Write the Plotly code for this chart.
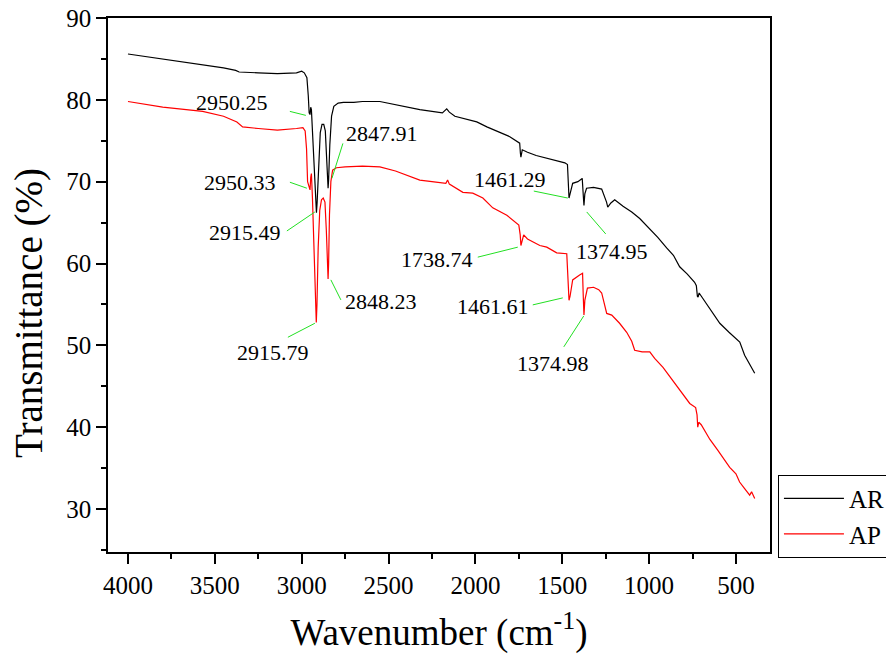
import plotly.graph_objects as go

# ---- data ----
ar_x = [4000, 3800, 3570, 3450, 3380, 3360, 3250, 3140, 3030, 3000, 2985, 2970, 2962, 2957, 2952, 2948, 2944,
        2935, 2926, 2918, 2915, 2911, 2902, 2893, 2883, 2873, 2864, 2856, 2850, 2848, 2845, 2838, 2828, 2815,
        2790, 2760, 2700, 2650, 2550, 2450, 2320, 2190, 2165, 2150, 2118, 1992, 1934, 1802, 1745, 1741, 1738,
        1730, 1700, 1650, 1600, 1550, 1485, 1470, 1465, 1461, 1455, 1440, 1410, 1385, 1378, 1375, 1370, 1360,
        1320, 1273, 1245, 1238, 1220, 1198, 1150, 1100, 1054, 1000, 950, 899, 860, 824, 780, 738, 728, 722,
        718, 712, 680, 640, 593, 540, 500, 478, 450, 420, 392]
ar_y = [85.6, 85.0, 84.3, 83.9, 83.6, 83.4, 83.3, 83.2, 83.3, 83.5, 83.3, 82.7, 80.5, 78.4, 78.2, 79.1, 78.8,
        75.0, 70.0, 66.5, 66.2, 67.5, 72.5, 76.0, 77.0, 77.0, 76.2, 72.5, 69.5, 69.2, 70.2, 74.5, 78.0, 79.2,
        79.6, 79.7, 79.7, 79.8, 79.8, 79.4, 78.8, 78.4, 78.9, 78.5, 78.0, 77.3, 76.7, 75.5, 74.7, 73.5, 73.0,
        73.9, 73.6, 73.2, 72.9, 72.6, 72.3, 72.1, 69.5, 68.0, 68.5, 69.8, 70.0, 70.4, 68.0, 67.1, 68.5, 69.2,
        69.3, 69.1, 67.5, 66.9, 67.4, 67.8, 67.0, 66.3, 65.5, 64.3, 63.2, 61.9, 61.0, 59.6, 58.7, 57.7, 57.3, 56.0,
        55.9, 56.4, 55.4, 54.3, 52.7, 51.6, 50.9, 50.4, 48.8, 47.6, 46.6]

ap_x = [4000, 3800, 3570, 3450, 3373, 3340, 3250, 3140, 3030, 2993, 2980, 2972, 2966, 2958, 2952, 2948, 2944,
        2938, 2930, 2922, 2916, 2912, 2905, 2896, 2886, 2876, 2866, 2858, 2852, 2848, 2845, 2840, 2832, 2822,
        2800, 2750, 2650, 2550, 2460, 2395, 2320, 2250, 2170, 2160, 2150, 2072, 2015, 1957, 1900, 1819, 1750,
        1742, 1738, 1733, 1722, 1700, 1660, 1629, 1589, 1532, 1474, 1468, 1461, 1455, 1440, 1400, 1383, 1379,
        1375, 1370, 1355, 1320, 1290, 1273, 1250, 1244, 1215, 1170, 1129, 1100, 1083, 1040, 996, 968, 920, 864,
        810, 766, 732, 724, 720, 714, 700, 650, 605, 570, 536, 500, 479, 450, 421, 410, 400, 392]
ap_y = [79.8, 79.1, 78.6, 78.0, 77.3, 76.7, 76.5, 76.3, 76.5, 76.6, 76.2, 74.0, 70.0, 69.3, 69.0, 70.5, 71.0,
        68.0, 62.0, 56.0, 52.8, 55.0, 62.0, 66.5, 67.8, 68.0, 67.5, 64.0, 59.0, 58.1, 60.0, 66.0, 70.0, 71.4,
        71.7, 71.8, 71.9, 71.8, 71.3, 70.8, 70.2, 70.0, 69.8, 70.2, 69.7, 68.7, 68.6, 68.0, 66.8, 65.9, 64.7,
        63.5, 62.2, 62.6, 63.5, 63.0, 62.5, 62.2, 62.0, 61.3, 61.2, 58.0, 55.5, 56.0, 58.0, 58.6, 58.8, 56.0,
        53.7, 55.5, 57.0, 57.1, 56.8, 56.4, 54.5, 53.9, 53.7, 52.7, 51.6, 50.5, 49.4, 49.2, 49.2, 48.4, 47.3, 45.7,
        44.1, 42.9, 42.4, 41.5, 40.0, 40.6, 40.3, 38.5, 37.2, 36.2, 35.1, 34.3, 33.3, 32.5, 31.7, 32.1, 31.6, 31.3]

series_names = ["AR", "AP"]
peak_labels = ["2950.25", "2950.33", "2915.49", "2915.79", "2847.91", "2848.23",
               "1461.29", "1374.95", "1738.74", "1461.61", "1374.98"]

x_ticks = [4000, 3500, 3000, 2500, 2000, 1500, 1000, 500]
y_ticks = [30, 40, 50, 60, 70, 80, 90]
x_title = "Wavenumber (cm<sup>-1</sup>)"
y_title = "Transmittance (%)"

FONT = "Liberation Serif"

X_RANGE = [4115, 304]
Y_RANGE = [24.75, 90]
MARGIN = dict(l=108, r=116, t=18, b=106)
W, H = 886, 658
PW = W - MARGIN["l"] - MARGIN["r"]
PH = H - MARGIN["t"] - MARGIN["b"]
# data units per pixel (used to convert pixel offsets of leader lines)
x_per_px = (X_RANGE[1] - X_RANGE[0]) / PW
y_per_px = (Y_RANGE[1] - Y_RANGE[0]) / PH

fig = go.Figure()
fig.add_trace(go.Scatter(x=ar_x, y=ar_y, mode="lines", name=series_names[0],
                         line=dict(color="black", width=1.2)))
fig.add_trace(go.Scatter(x=ap_x, y=ap_y, mode="lines", name=series_names[1],
                         line=dict(color="red", width=1.2)))

# annotation layout: (head x, head y [data], tail dx, tail dy [px, right/down], text dx, text dy [px, right/up])
ann_layout = [
    (2976, 78.1, -16, -4, -74, 13),
    (2970, 69.2, -17, -6, -67, 6),
    (2924, 66.3, -28, 19, -70, -21),
    (2924, 52.7, -27, 14, -42, -29),
    (2826, 70.4, 11, -35, 50, 45),
    (2832, 58.0, 10, 20, 50, -22),
    (1468, 68.0, -34, -7, -58, 19),
    (1359, 66.3, 19, 22, 25, -40),
    (1756, 62.0, -40, 10, -81, -12),
    (1497, 55.8, -30, 7, -70, -9),
    (1376, 53.6, -20, 31, -31, -48),
]
annotations = []
shapes = []
for lab, (hx, hy, tdx, tdy, sx, sy) in zip(peak_labels, ann_layout):
    shapes.append(dict(type="line", xref="x", yref="y", x0=hx, y0=hy,
                       x1=hx + tdx * x_per_px, y1=hy - tdy * y_per_px,
                       line=dict(color="#22e022", width=1)))
    annotations.append(dict(x=hx, y=hy, xref="x", yref="y", text=lab, showarrow=False,
                            xshift=sx, yshift=sy, xanchor="center", yanchor="middle",
                            font=dict(family=FONT, size=22, color="black")))

# y-axis title as a rotated annotation (centred slightly below the plot middle as in the reference)
annotations.append(dict(x=(29 - MARGIN["l"]) / PW, y=(H - MARGIN["b"] - 313) / PH,
                        xref="paper", yref="paper", text=y_title, showarrow=False, textangle=-90,
                        xanchor="center", yanchor="middle",
                        font=dict(family=FONT, size=39, color="black")))

fig.update_layout(
    width=W, height=H,
    margin=dict(**MARGIN, autoexpand=False),
    plot_bgcolor="white", paper_bgcolor="white",
    font=dict(family=FONT, color="black"),
    showlegend=True,
    legend=dict(x=1.012, y=0.145, xanchor="left", yanchor="top",
                bordercolor="black", borderwidth=1, bgcolor="white",
                font=dict(family=FONT, size=25, color="black"),
                itemwidth=60, tracegroupgap=0),
    annotations=annotations,
    shapes=shapes,
)
fig.update_xaxes(range=X_RANGE, tickvals=x_ticks, ticktext=[str(v) for v in x_ticks],
                 ticks="outside", ticklen=10, tickwidth=1.5, tickcolor="black",
                 showline=True, linecolor="black", linewidth=1.5, mirror=True,
                 showgrid=False, zeroline=False,
                 tickfont=dict(family=FONT, size=25, color="black"),
                 minor=dict(tickvals=[3750, 3250, 2750, 2250, 1750, 1250, 750], ticks="outside",
                            ticklen=5, tickwidth=1.5, tickcolor="black"),
                 title=dict(text=x_title, font=dict(family=FONT, size=37), standoff=21))
fig.update_yaxes(range=Y_RANGE, tickvals=y_ticks, ticks="outside", ticklen=10, tickwidth=1.5,
                 tickcolor="black", showline=True, linecolor="black", linewidth=1.5, mirror=True,
                 showgrid=False, zeroline=False,
                 tickfont=dict(family=FONT, size=25, color="black"),
                 minor=dict(tickvals=[25, 35, 45, 55, 65, 75, 85], ticks="outside",
                            ticklen=5, tickwidth=1.5, tickcolor="black"))

fig.write_html("out.html")
